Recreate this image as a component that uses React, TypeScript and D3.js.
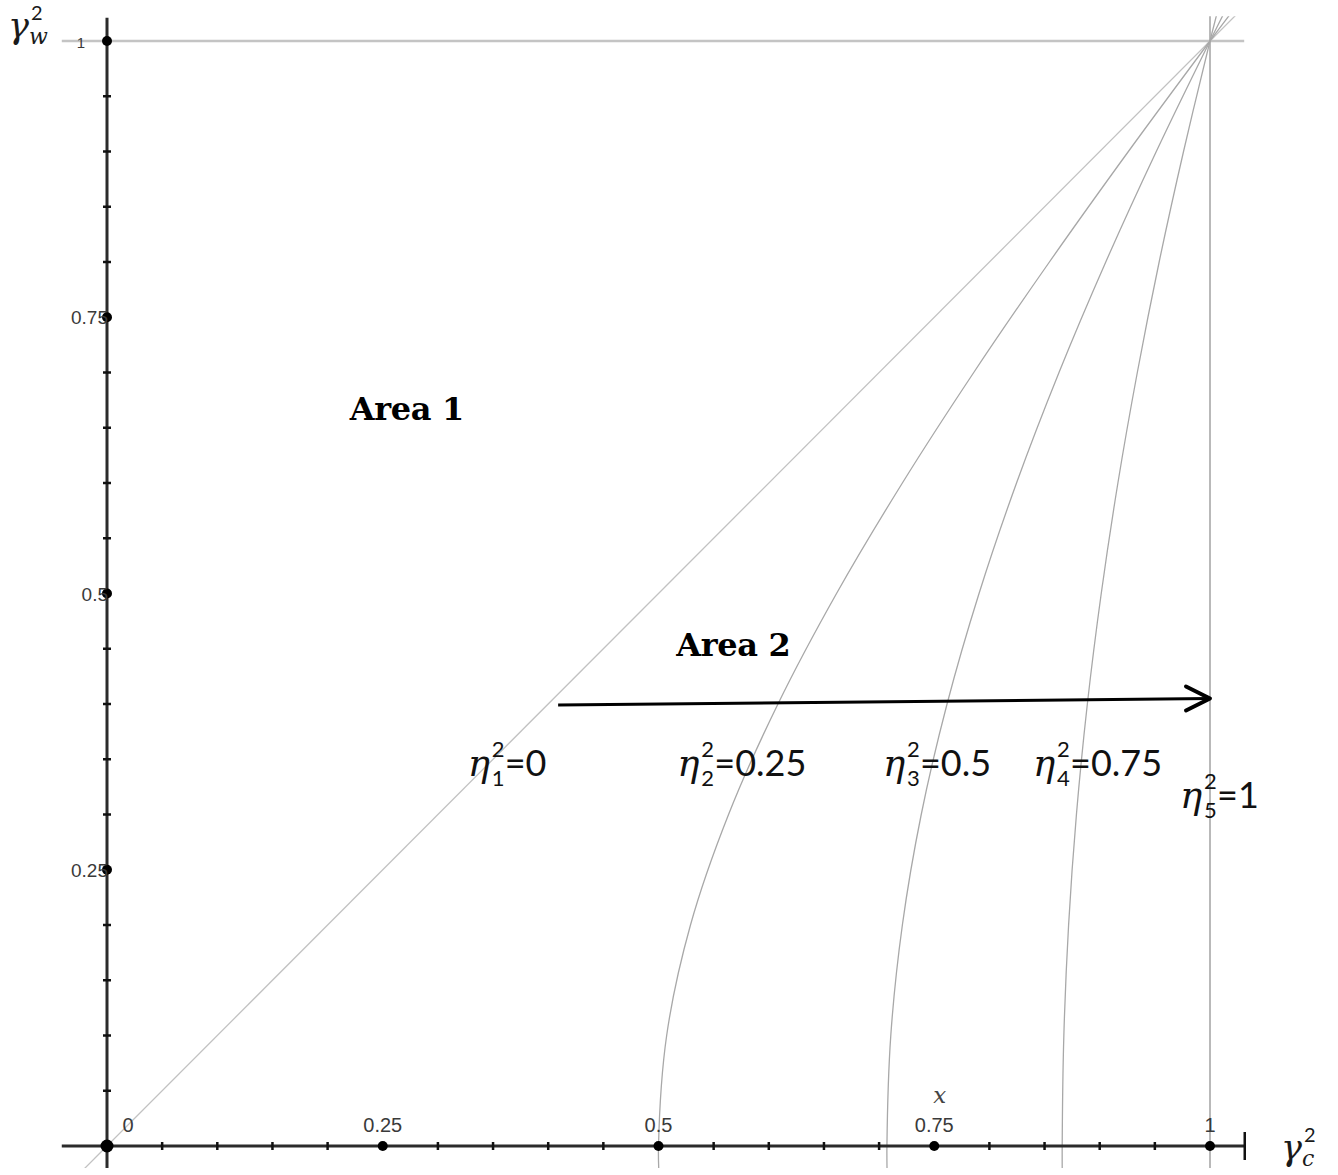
import React, { useEffect, useRef } from "react";
import * as d3 from "d3";

// eta^2 values of the curve family
const etaValues = [0, 0.25, 0.5, 0.75, 1];

// points for every curve (x = gamma_c^2, y = gamma_w^2)
const curve0 = [
  { x: -0.03, y: -0.03 },
  { x: 1.03, y: 1.03 },
];
const curve1 = [
  { x: 0.5007, y: -0.03 }, { x: 0.5, y: 0 }, { x: 0.5074, y: 0.1 }, { x: 0.529, y: 0.2 },
  { x: 0.5635, y: 0.3 }, { x: 0.6083, y: 0.4 }, { x: 0.6614, y: 0.5 }, { x: 0.7211, y: 0.6 },
  { x: 0.7858, y: 0.7 }, { x: 0.8544, y: 0.8 }, { x: 0.926, y: 0.9 }, { x: 1, y: 1 },
  { x: 1.0226, y: 1.03 },
];
const curve2 = [
  { x: 0.7074, y: -0.03 }, { x: 0.7071, y: 0 }, { x: 0.7106, y: 0.1 }, { x: 0.7211, y: 0.2 },
  { x: 0.7382, y: 0.3 }, { x: 0.7616, y: 0.4 }, { x: 0.7906, y: 0.5 }, { x: 0.8246, y: 0.6 },
  { x: 0.8631, y: 0.7 }, { x: 0.9055, y: 0.8 }, { x: 0.9513, y: 0.9 }, { x: 1, y: 1 },
  { x: 1.0151, y: 1.03 },
];
const curve3 = [
  { x: 0.8661, y: -0.03 }, { x: 0.866, y: 0 }, { x: 0.8675, y: 0.1 }, { x: 0.8718, y: 0.2 },
  { x: 0.8789, y: 0.3 }, { x: 0.8888, y: 0.4 }, { x: 0.9014, y: 0.5 }, { x: 0.9165, y: 0.6 },
  { x: 0.9341, y: 0.7 }, { x: 0.9539, y: 0.8 }, { x: 0.976, y: 0.9 }, { x: 1, y: 1 },
  { x: 1.0076, y: 1.03 },
];
const curve4 = [
  { x: 1, y: -0.03 },
  { x: 1, y: 1.03 },
];
const curves = [curve0, curve1, curve2, curve3, curve4];

// ticks
const majorTicks = [0.25, 0.5, 0.75, 1];
const minorTicks = [0.05, 0.1, 0.15, 0.2, 0.3, 0.35, 0.4, 0.45, 0.55, 0.6, 0.65, 0.7, 0.8, 0.85, 0.9, 0.95];
const xTickLabels = ["0.25", "0.5", "0.75", "1"];
const yTickLabels = ["0.25", "0.5", "0.75", "1"];

// curve labels (subscript, value, anchor)
const etaLabels = [
  { sub: "1", value: "0", x: 0.327, y: 0.335 },
  { sub: "2", value: "0.25", x: 0.517, y: 0.335 },
  { sub: "3", value: "0.5", x: 0.7035, y: 0.335 },
  { sub: "4", value: "0.75", x: 0.8396, y: 0.335 },
  { sub: "5", value: "1", x: 0.9728, y: 0.306 },
];
const areaLabels = [
  { text: "Area 1", x: 0.22, y: 0.657 },
  { text: "Area 2", x: 0.516, y: 0.443 },
];
const arrow = { x1: 0.409, y1: 0.399, x2: 1.0, y2: 0.405 };

const App = () => {
  const svgRef = useRef<SVGSVGElement>(null);

  useEffect(() => {
    document.body.style.margin = "0";
    const width = 1338;
    const height = 1175;

    d3.select(svgRef.current).selectAll("*").remove();
    const svg = d3.select(svgRef.current).attr("width", width).attr("height", height);

    const x = d3.scaleLinear().domain([0, 1]).range([107, 1210]);
    const y = d3.scaleLinear().domain([0, 1]).range([1146, 41]);

    // visible window of the plot
    const xMin = x(-0.041), xMax = x(1.031);
    const yTop = y(1.0225), yBot = y(-0.02);

    svg.append("defs").append("clipPath").attr("id", "plotclip")
      .append("rect")
      .attr("x", xMin).attr("y", yTop)
      .attr("width", xMax - xMin).attr("height", yBot - yTop);

    // gray reference line at gamma_w^2 = 1
    svg.append("line")
      .attr("x1", xMin).attr("x2", xMax)
      .attr("y1", y(1)).attr("y2", y(1))
      .attr("stroke", "#c4c4c4").attr("stroke-width", 2.5);

    const line = d3.line<{ x: number; y: number }>()
      .x((d) => x(d.x))
      .y((d) => y(d.y))
      .curve(d3.curveCatmullRom.alpha(0.5));

    svg.append("g").attr("clip-path", "url(#plotclip)")
      .selectAll("path")
      .data(curves)
      .enter()
      .append("path")
      .attr("d", (d) => line(d))
      .attr("fill", "none")
      .attr("stroke", (d, i) => (etaValues[i] === 0 ? "#c2c2c2" : "#a8a8a8"))
      .attr("stroke-width", (d, i) => (etaValues[i] === 1 ? 1.6 : 1.3));

    // axes
    const axisColor = "#2b2b2b";
    svg.append("line")
      .attr("x1", xMin).attr("x2", x(1.0315))
      .attr("y1", y(0)).attr("y2", y(0))
      .attr("stroke", axisColor).attr("stroke-width", 3);
    svg.append("line")
      .attr("x1", x(1.0315)).attr("x2", x(1.0315))
      .attr("y1", y(0) + 14).attr("y2", y(0) - 14)
      .attr("stroke", "#111").attr("stroke-width", 2.5);
    svg.append("line")
      .attr("x1", x(0)).attr("x2", x(0))
      .attr("y1", y(1.021)).attr("y2", yBot)
      .attr("stroke", axisColor).attr("stroke-width", 3);

    // minor ticks
    svg.append("g").selectAll("line")
      .data(minorTicks)
      .enter()
      .append("line")
      .attr("x1", (d) => x(d)).attr("x2", (d) => x(d))
      .attr("y1", y(0) - 4).attr("y2", y(0) + 4)
      .attr("stroke", "#111").attr("stroke-width", 2.5);
    svg.append("g").selectAll("line")
      .data(minorTicks)
      .enter()
      .append("line")
      .attr("y1", (d) => y(d)).attr("y2", (d) => y(d))
      .attr("x1", x(0) - 4).attr("x2", x(0) + 4)
      .attr("stroke", "#111").attr("stroke-width", 2.5);

    // major dots
    svg.append("g").selectAll("circle")
      .data(majorTicks)
      .enter()
      .append("circle")
      .attr("cx", (d) => x(d)).attr("cy", y(0)).attr("r", 5)
      .attr("fill", "#000");
    svg.append("g").selectAll("circle")
      .data(majorTicks)
      .enter()
      .append("circle")
      .attr("cx", x(0)).attr("cy", (d) => y(d)).attr("r", 5)
      .attr("fill", "#000");
    svg.append("circle").attr("cx", x(0)).attr("cy", y(0)).attr("r", 6.5).attr("fill", "#000");

    // tick labels
    const tickFont = "'Liberation Sans', Arial, sans-serif";
    svg.append("g").selectAll("text")
      .data(majorTicks)
      .enter()
      .append("text")
      .attr("x", (d) => x(d)).attr("y", y(0) - 14)
      .attr("text-anchor", "middle")
      .attr("font-family", tickFont).attr("font-size", 20)
      .attr("fill", "#3a3a3a")
      .text((d, i) => xTickLabels[i]);
    svg.append("text")
      .attr("x", x(0) + 21).attr("y", y(0) - 14)
      .attr("text-anchor", "middle")
      .attr("font-family", tickFont).attr("font-size", 20)
      .attr("fill", "#3a3a3a")
      .text("0");
    svg.append("g").selectAll("text")
      .data(majorTicks)
      .enter()
      .append("text")
      .attr("x", (d) => (d === 1 ? x(0) - 22 : x(0) + 1))
      .attr("y", (d) => y(d) + 7)
      .attr("text-anchor", "end")
      .attr("font-family", tickFont)
      .attr("font-size", (d) => (d === 1 ? 15 : 19))
      .attr("fill", "#3a3a3a")
      .text((d, i) => yTickLabels[i]);

    // small "x" marker above 0.75
    svg.append("text")
      .attr("x", x(0.755)).attr("y", y(0.039))
      .attr("text-anchor", "middle")
      .attr("font-family", "'DejaVu Serif', serif").attr("font-style", "italic")
      .attr("font-size", 23).attr("fill", "#444")
      .text("x");

    // area labels
    svg.append("g").selectAll("text")
      .data(areaLabels)
      .enter()
      .append("text")
      .attr("x", (d) => x(d.x)).attr("y", (d) => y(d.y))
      .attr("font-family", "'DejaVu Serif', serif").attr("font-weight", "bold")
      .attr("font-size", 32).attr("letter-spacing", -0.3).attr("fill", "#000")
      .text((d) => d.text);

    // arrow
    svg.append("line")
      .attr("x1", x(arrow.x1)).attr("y1", y(arrow.y1))
      .attr("x2", x(arrow.x2)).attr("y2", y(arrow.y2))
      .attr("stroke", "#000").attr("stroke-width", 3);
    const tipX = x(arrow.x2), tipY = y(arrow.y2);
    svg.append("path")
      .attr("d", `M${tipX - 24},${tipY - 12} L${tipX},${tipY} L${tipX - 24},${tipY + 12}`)
      .attr("fill", "none").attr("stroke", "#000").attr("stroke-width", 4)
      .attr("stroke-linecap", "round").attr("stroke-linejoin", "round");

    // eta labels
    const mathFont = "'DejaVu Serif', serif";
    const numFont = "Lato, 'Open Sans', sans-serif";
    const eg = svg.append("g").selectAll("g")
      .data(etaLabels)
      .enter()
      .append("g")
      .attr("transform", (d) => `translate(${x(d.x)},${y(d.y)})`);
    eg.append("text")
      .attr("x", 0).attr("y", 0)
      .attr("font-family", mathFont).attr("font-style", "italic")
      .attr("font-size", 37).attr("fill", "#111")
      .text("η");
    eg.append("text")
      .attr("x", 24).attr("y", -19)
      .attr("font-family", numFont).attr("font-size", 22).attr("fill", "#111")
      .text("2");
    eg.append("text")
      .attr("x", 24).attr("y", 10)
      .attr("font-family", numFont).attr("font-size", 22).attr("fill", "#111")
      .text((d) => d.sub);
    eg.append("text")
      .attr("x", 37).attr("y", 0)
      .attr("font-family", numFont).attr("font-size", 36).attr("fill", "#111")
      .text((d) => "=" + d.value);

    // axis titles
    const title = (g: any, sub: string) => {
      g.append("text").attr("x", 0).attr("y", 0)
        .attr("font-family", mathFont).attr("font-style", "italic")
        .attr("font-size", 35).attr("fill", "#1a1a1a").text("γ");
      g.append("text").attr("x", 23).attr("y", -18)
        .attr("font-family", numFont).attr("font-size", 20).attr("fill", "#1a1a1a").text("2");
      g.append("text").attr("x", 21).attr("y", 6)
        .attr("font-family", mathFont).attr("font-style", "italic")
        .attr("font-size", 22).attr("fill", "#1a1a1a").text(sub);
    };
    title(svg.append("g").attr("transform", "translate(8,38)"), "w");
    title(svg.append("g").attr("transform", "translate(1281,1160)"), "c");
  }, []);

  return <svg ref={svgRef}></svg>;
};

export default App;
